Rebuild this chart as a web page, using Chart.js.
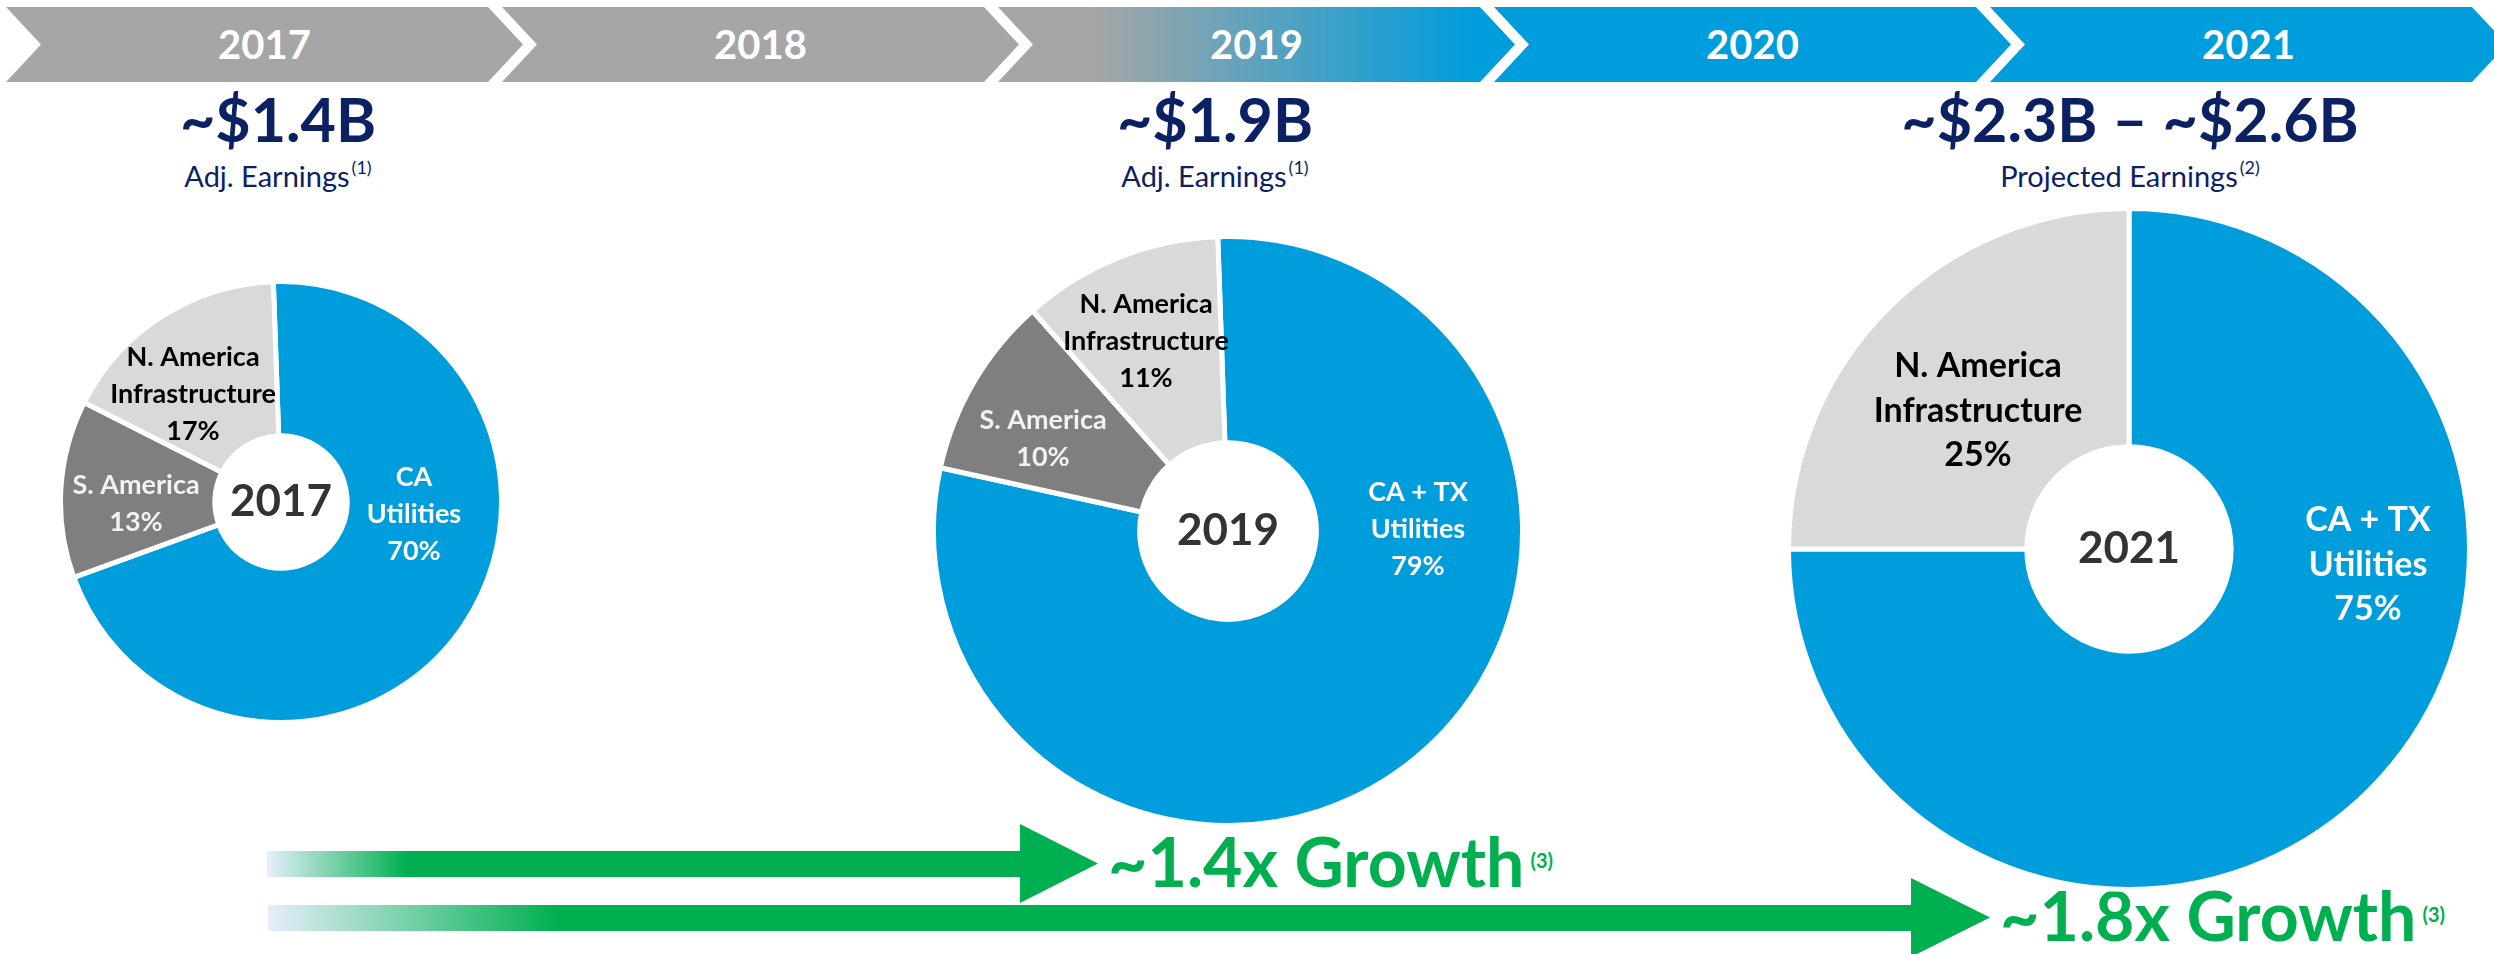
<!DOCTYPE html>
<html>
<head>
<meta charset="utf-8">
<title>Earnings mix 2017 - 2021</title>
<script src="https://cdn.jsdelivr.net/npm/chart.js@4.4.1/dist/chart.umd.min.js"></script>
<style>
  html, body { margin: 0; padding: 0; background: #fff; }
  body { width: 2494px; height: 954px; position: relative; overflow: hidden; font-family: Lato, 'Open Sans', sans-serif; }
  .chev { position: absolute; top: 7px; height: 75px; width: 517px; background: #a6a6a6;
          clip-path: polygon(0 0, 482px 0, 517px 50%, 482px 100%, 0 100%, 35px 50%); }
  .chev span { position: absolute; left: 17px; right: 17px; top: 0; line-height: 75px; text-align: center;
               color: #fff; font-weight: 700; font-size: 40px; }
  .title { position: absolute; width: 800px; text-align: center; color: #0b2164; line-height: 1; white-space: nowrap; }
  .title.big { font-size: 61px; font-weight: 700; }
  .title.small { font-size: 29px; font-weight: 400; }
  .ref { position: relative; font-size: 18px; top: -13px; margin-left: 2px; }
  .arrow { position: absolute; height: 79px; }
  .growth { position: absolute; color: #00b050; font-weight: 700; font-size: 68px; line-height: 1; white-space: nowrap; }
  .growth .ref { font-size: 20px; top: -19px; margin-left: 6px; }
  .pie { position: absolute; }
</style>
</head>
<body>
<script>
// data
const years = ['2017', '2018', '2019', '2020', '2021'];
const earnings = ['~$1.4B', '~$1.9B', '~$2.3B – ~$2.6B'];
const earningsNotes = ['Adj. Earnings', 'Adj. Earnings', 'Projected Earnings'];
const earningsRefs = ['(1)', '(1)', '(2)'];

const segments2017 = ['CA\nUtilities', 'S. America', 'N. America\nInfrastructure'];
const shares2017 = [70, 13, 17];
const segments2019 = ['CA + TX\nUtilities', 'S. America', 'N. America\nInfrastructure'];
const shares2019 = [79, 10, 11];
const segments2021 = ['CA + TX\nUtilities', 'N. America\nInfrastructure'];
const shares2021 = [75, 25];

const growthLabels = ['~1.4x Growth', '~1.8x Growth'];
const growthRefs = ['(3)', '(3)'];

const BLUE = '#009ddc';
const DARK = '#7f7f7f';
const LIGHT = '#d9d9d9';

// timeline banner
years.forEach((y, i) => {
    const d = document.createElement('div');
    d.className = 'chev';
    d.style.left = (6 + 496 * i) + 'px';
    if (i >= 3) d.style.background = BLUE;
    if (i === 2) d.style.background = 'linear-gradient(to right, #a6a6a6 18%, #009ddc 92%)';
    d.innerHTML = `<span>${y}</span>`;
    document.body.appendChild(d);
});

// earnings headings
const titleX = [278, 1215, 2130];
earnings.forEach((t, i) => {
    const big = document.createElement('div');
    big.className = 'title big';
    big.style.left = (titleX[i] - 400) + 'px';
    big.style.top = (142 - 0.887 * 61) + 'px';
    big.textContent = t;
    document.body.appendChild(big);

    const small = document.createElement('div');
    small.className = 'title small';
    small.style.left = (titleX[i] - 400) + 'px';
    small.style.top = (187 - 0.887 * 29) + 'px';
    small.innerHTML = `${earningsNotes[i]}<span class="ref">${earningsRefs[i]}</span>`;
    document.body.appendChild(small);
});

// growth arrows
const arrows = [
    { x: 267, y: 824, w: 831, head: 753, fade: 140 },
    { x: 268, y: 878, w: 1722, head: 1643, fade: 289 }
];
arrows.forEach(a => {
    const d = document.createElement('div');
    d.className = 'arrow';
    d.style.left = a.x + 'px';
    d.style.top = a.y + 'px';
    d.style.width = a.w + 'px';
    d.style.background = `linear-gradient(to right, #e6eefb 0px, #00b050 ${a.fade}px, #00b050 100%)`;
    d.style.clipPath = `polygon(0 27px, ${a.head}px 27px, ${a.head}px 0, ${a.w}px 39.5px, ${a.head}px 79px, ${a.head}px 53px, 0 53px)`;
    document.body.appendChild(d);
});
const growthPos = [[1108, 887], [2000, 941]];
growthLabels.forEach((t, i) => {
    const d = document.createElement('div');
    d.className = 'growth';
    d.style.left = growthPos[i][0] + 'px';
    d.style.top = (growthPos[i][1] - 0.887 * 68) + 'px';
    d.innerHTML = `${t}<span class="ref">${growthRefs[i]}</span>`;
    document.body.appendChild(d);
});

// labels inside the doughnuts
const sliceLabels = {
    id: 'sliceLabels',
    afterDatasetsDraw(chart, args, opts) {
        const meta = chart.getDatasetMeta(0);
        const ctx = chart.ctx;
        const cx = meta.data[0].x, cy = meta.data[0].y;
        ctx.save();
        ctx.textAlign = 'center';
        ctx.textBaseline = 'middle';
        ctx.font = `700 ${opts.size}px Lato, sans-serif`;
        meta.data.forEach((arc, i) => {
            const lines = chart.data.labels[i].split('\n');
            lines.push(chart.data.datasets[0].data[i] + '%');
            const [dx, dy] = opts.offsets[i];
            const y0 = cy + dy - (lines.length - 1) * opts.lineHeight / 2;
            ctx.fillStyle = opts.colors[i];
            lines.forEach((t, k) => ctx.fillText(t, cx + dx, y0 + k * opts.lineHeight));
        });
        ctx.font = `700 ${opts.centerSize}px Lato, sans-serif`;
        ctx.fillStyle = '#333333';
        ctx.fillText(opts.center, cx, cy);
        ctx.restore();
    }
};

const pies = [
    { cx: 281, cy: 502, r: 218, rotation: -2, labels: segments2017, values: shares2017,
      fill: [BLUE, DARK, LIGHT], text: ['#ffffff', '#f2f2f2', '#000000'],
      offsets: [[133, 12], [-145, 2], [-88, -108]], size: 27, lineHeight: 37, center: '2017' },
    { cx: 1228, cy: 531, r: 292, rotation: -2, labels: segments2019, values: shares2019,
      fill: [BLUE, DARK, LIGHT], text: ['#ffffff', '#f2f2f2', '#000000'],
      offsets: [[190, -2], [-185, -92], [-82, -190]], size: 27, lineHeight: 37, center: '2019' },
    { cx: 2129, cy: 549, r: 338, rotation: 0, labels: segments2021, values: shares2021,
      fill: [BLUE, LIGHT], text: ['#ffffff', '#000000'],
      offsets: [[239, 16], [-151, -138]], size: 34, lineHeight: 44.5, center: '2021' }
];

pies.forEach(p => {
    const size = 2 * p.r + 10;
    const box = document.createElement('div');
    box.className = 'pie';
    box.style.left = (p.cx - size / 2) + 'px';
    box.style.top = (p.cy - size / 2) + 'px';
    box.style.width = size + 'px';
    box.style.height = size + 'px';
    const canvas = document.createElement('canvas');
    box.appendChild(canvas);
    document.body.appendChild(box);

    new Chart(canvas, {
        type: 'doughnut',
        data: {
            labels: p.labels,
            datasets: [{
                data: p.values,
                backgroundColor: p.fill,
                borderColor: '#ffffff',
                borderWidth: 5
            }]
        },
        options: {
            responsive: true,
            maintainAspectRatio: false,
            animation: false,
            events: [],
            cutout: '30%',
            rotation: p.rotation,
            layout: { padding: 0 },
            plugins: {
                legend: { display: false },
                tooltip: { enabled: false },
                sliceLabels: {
                    offsets: p.offsets,
                    colors: p.text,
                    size: p.size,
                    lineHeight: p.lineHeight,
                    center: p.center,
                    centerSize: 44
                }
            }
        },
        plugins: [sliceLabels]
    });
});
</script>
</body>
</html>
